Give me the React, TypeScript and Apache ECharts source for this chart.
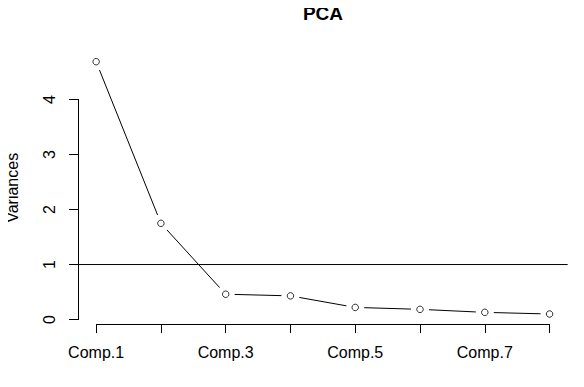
import React, { useEffect, useRef } from "react";
import * as echarts from "echarts";

const categories = ["Comp.1", "Comp.2", "Comp.3", "Comp.4", "Comp.5", "Comp.6", "Comp.7", "Comp.8"];
const variances = [4.69, 1.75, 0.46, 0.43, 0.22, 0.185, 0.13, 0.1];
const yTicks = [0, 1, 2, 3, 4];
const xLabelPositions = [1, 3, 5, 7];
const referenceLine = 1;
const title = "PCA";
const yName = "Variances";

const FONT = "'Liberation Sans', Arial, sans-serif";

export default function App() {
  const ref = useRef<HTMLDivElement>(null);

  useEffect(() => {
    if (!ref.current) return;
    const chart = echarts.init(ref.current, undefined, { renderer: "svg" });

    const n = categories.length;
    const xs = categories.map((_, i) => i + 1);
    const xPad = 0.04 * (n - 1);
    const xMin = 1 - xPad;
    const xMax = n + xPad;
    const vMin = Math.min(...variances);
    const vMax = Math.max(...variances);
    const yPad = 0.04 * (vMax - vMin);
    const yMin = vMin - yPad;
    const yMax = vMax + yPad;

    const points = xs.map((x, i) => [x, variances[i]]);
    const segments = xs.slice(0, -1).map((x, i) => [x, variances[i], x + 1, variances[i + 1]]);

    const gap = 9;

    chart.setOption({
      animation: false,
      backgroundColor: "#ffffff",
      textStyle: { fontFamily: FONT, color: "#000" },
      title: {
        text: title,
        left: 323,
        textAlign: "center",
        top: 0,
        padding: [4, 0, 0, 0],
        textStyle: { fontFamily: FONT, fontSize: 19, fontWeight: "bold", color: "#000" },
      },
      grid: {
        left: 78,
        right: 16.3,
        top: 51.6,
        bottom: 62.9,
        containLabel: false,
        outerBoundsMode: "none",
      },
      xAxis: {
        type: "value",
        min: xMin,
        max: xMax,
        splitLine: { show: false },
        axisLine: { show: false, onZero: false },
        axisTick: {
          show: true,
          customValues: xs,
          length: 9,
          lineStyle: { color: "#000", width: 1 },
        },
        axisLabel: {
          show: true,
          customValues: xLabelPositions,
          formatter: (v: number) => categories[Math.round(v) - 1] ?? "",
          fontFamily: FONT,
          fontSize: 16,
          color: "#000",
          margin: 20,
        },
      },
      yAxis: {
        type: "value",
        min: yMin,
        max: yMax,
        splitLine: { show: false },
        axisLine: { show: false, onZero: false },
        axisTick: {
          show: true,
          customValues: yTicks,
          length: 9,
          lineStyle: { color: "#000", width: 1 },
        },
        axisLabel: {
          show: true,
          customValues: yTicks,
          rotate: 90,
          fontFamily: FONT,
          fontSize: 16,
          color: "#000",
          margin: 21,
        },
        name: yName,
        nameLocation: "middle",
        nameRotate: 90,
        nameGap: 58,
        nameTextStyle: { fontFamily: FONT, fontSize: 16, color: "#000" },
      },
      series: [
        {
          type: "line",
          name: "abline",
          data: [
            [xMin, referenceLine],
            [xMax, referenceLine],
          ],
          symbol: "none",
          silent: true,
          lineStyle: { color: "#000", width: 1 },
        },
        {
          type: "custom",
          name: "segments",
          data: segments,
          encode: { x: [0, 2], y: [1, 3] },
          silent: true,
          renderItem: (params: any, api: any) => {
            const p1 = api.coord([api.value(0), api.value(1)]);
            const p2 = api.coord([api.value(2), api.value(3)]);
            const dx = p2[0] - p1[0];
            const dy = p2[1] - p1[1];
            const len = Math.hypot(dx, dy);
            if (len <= 2 * gap) return null;
            const ux = dx / len;
            const uy = dy / len;
            return {
              type: "line",
              shape: {
                x1: p1[0] + ux * gap,
                y1: p1[1] + uy * gap,
                x2: p2[0] - ux * gap,
                y2: p2[1] - uy * gap,
              },
              style: { stroke: "#000", lineWidth: 1 },
            };
          },
        },
        {
          type: "scatter",
          name: "variances",
          data: points,
          symbol: "circle",
          symbolSize: 6.5,
          silent: true,
          itemStyle: { color: "#fff", borderColor: "#000", borderWidth: 1 },
        },
      ],
    });

    // R-style axis lines spanning only the tick range, placed via the chart's own scales
    const yA = chart.convertToPixel({ gridIndex: 0 }, [xMin, yTicks[0]]) as number[];
    const yB = chart.convertToPixel({ gridIndex: 0 }, [xMin, yTicks[yTicks.length - 1]]) as number[];
    const xA = chart.convertToPixel({ gridIndex: 0 }, [xs[0], yMin]) as number[];
    const xB = chart.convertToPixel({ gridIndex: 0 }, [xs[n - 1], yMin]) as number[];
    const yLineX = Math.round(yA[0]);
    const xLineY = Math.round(xA[1] - 0.5);
    chart.setOption({
      graphic: [
        {
          type: "rect",
          silent: true,
          z: 100,
          shape: { x: yLineX, y: Math.round(yB[1] - 0.5), width: 1, height: Math.round(yA[1] - yB[1]) + 1 },
          style: { fill: "#000" },
        },
        {
          type: "rect",
          silent: true,
          z: 100,
          shape: { x: Math.round(xA[0] - 0.5), y: xLineY, width: Math.round(xB[0] - xA[0]) + 1, height: 1 },
          style: { fill: "#000" },
        },
      ],
    });

    return () => chart.dispose();
  }, []);

  return <div ref={ref} style={{ width: 584, height: 387, margin: -8 }} />;
}
